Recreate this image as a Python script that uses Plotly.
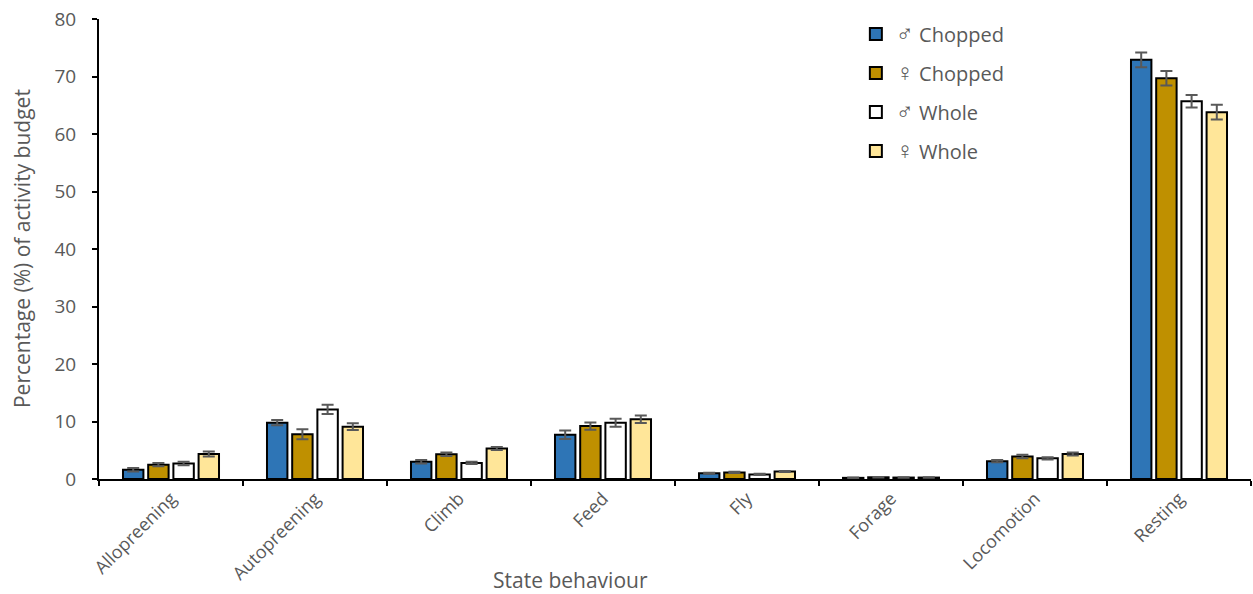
import plotly.graph_objects as go

categories = ["Allopreening", "Autopreening", "Climb", "Feed", "Fly", "Forage", "Locomotion", "Resting"]

male_chopped = [1.6, 9.8, 3.0, 7.7, 1.0, 0.2, 3.1, 72.9]
male_chopped_err = [0.3, 0.45, 0.3, 0.75, 0.1, 0.05, 0.2, 1.27]

female_chopped = [2.5, 7.8, 4.3, 9.2, 1.15, 0.3, 3.9, 69.7]
female_chopped_err = [0.3, 0.87, 0.3, 0.64, 0.1, 0.05, 0.3, 1.27]

male_whole = [2.7, 12.1, 2.8, 9.8, 0.8, 0.25, 3.6, 65.7]
male_whole_err = [0.3, 0.8, 0.2, 0.7, 0.1, 0.05, 0.2, 1.1]

female_whole = [4.35, 9.1, 5.3, 10.4, 1.3, 0.25, 4.35, 63.8]
female_whole_err = [0.45, 0.58, 0.25, 0.64, 0.1, 0.05, 0.25, 1.27]

MALE = '<span style="font-size:24px">\u2642</span>'
FEMALE = '<span style="font-size:24px">\u2640</span>'

series = [
    (f"{MALE} Chopped", male_chopped, male_chopped_err, "#2E75B6"),
    (f"{FEMALE} Chopped", female_chopped, female_chopped_err, "#BF9000"),
    (f"{MALE} Whole", male_whole, male_whole_err, "#FFFFFF"),
    (f"{FEMALE} Whole", female_whole, female_whole_err, "#FFE699"),
]

FONT = "Open Sans"
GREY = "#595959"

fig = go.Figure()
for i, (name, vals, errs, color) in enumerate(series):
    fig.add_trace(go.Bar(
        name=name,
        x=categories,
        y=vals,
        legendgroup=f"g{i}",
        marker=dict(color=color, line=dict(color="black", width=2)),
        error_y=dict(type="data", array=errs, visible=True,
                     color=GREY, thickness=2, width=6),
    ))

fig.update_layout(
    width=1253, height=594,
    margin=dict(l=99, r=2, t=19, b=115),
    paper_bgcolor="white", plot_bgcolor="white",
    barmode="group", bargap=0.3, bargroupgap=0.19,
    font=dict(family=FONT, size=17, color=GREY),
    legend=dict(x=0.657, y=1.01, xanchor="left", yanchor="top",
                font=dict(size=20, color=GREY), tracegroupgap=10,
                bgcolor="rgba(0,0,0,0)"),
    xaxis=dict(
        showline=True, linecolor="black", linewidth=2,
        ticks="outside", tickson="boundaries", ticklen=5, tickwidth=2, tickcolor="black",
        tickangle=-45, tickfont=dict(family=FONT, size=18, color=GREY),
        showgrid=False,
    ),
    yaxis=dict(
        range=[0, 80], dtick=10,
        showline=True, linecolor="black", linewidth=2,
        ticks="outside", ticklen=5, tickwidth=2, tickcolor="black",
        tickfont=dict(family=FONT, size=19, color=GREY), ticklabelstandoff=12,
        showgrid=False, zeroline=False,
    ),
    annotations=[
        dict(text="State behaviour", xref="paper", yref="paper",
             x=0.409, y=-0.2196, xanchor="center", yanchor="middle",
             showarrow=False, borderpad=0,
             font=dict(family=FONT, size=21, color=GREY)),
        dict(text="Percentage (%) of activity budget", xref="paper", yref="paper",
             x=-0.0668, y=0.5, xanchor="center", yanchor="middle", textangle=-90,
             showarrow=False, font=dict(family=FONT, size=21, color=GREY)),
    ],
)

fig.write_html("out.html")
